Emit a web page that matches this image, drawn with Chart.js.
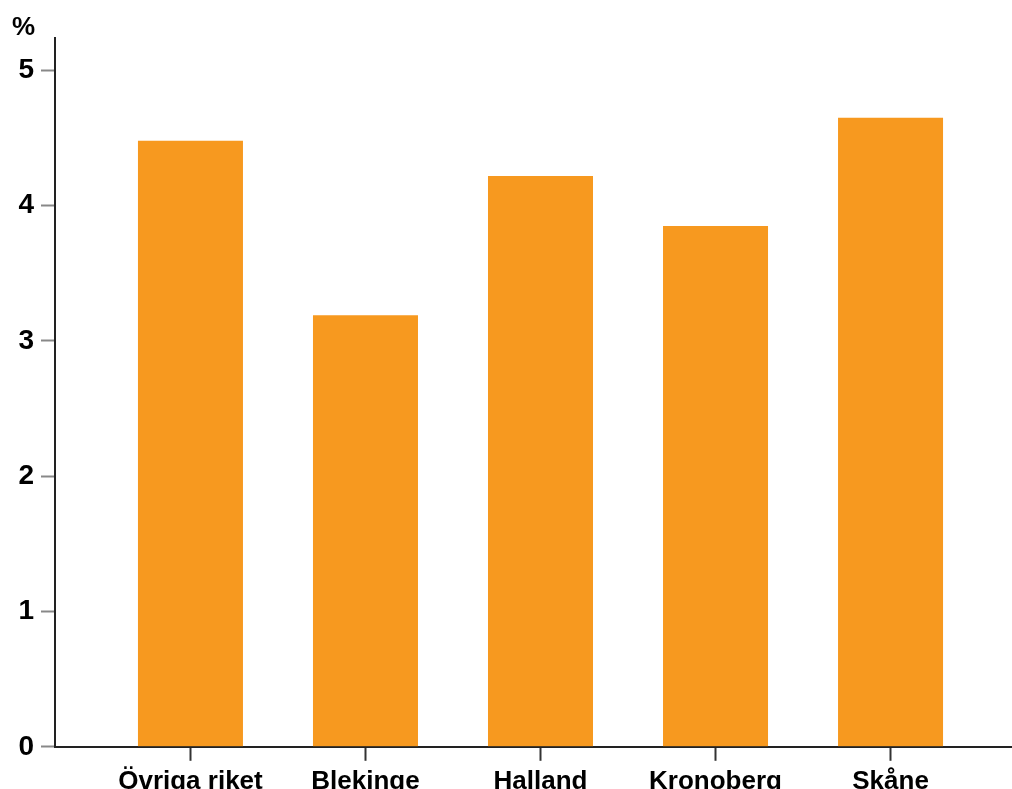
<!DOCTYPE html>
<html>
<head>
<meta charset="utf-8">
<script src="https://cdn.jsdelivr.net/npm/chart.js@4/dist/chart.umd.min.js"></script>
<style>
  html, body { margin: 0; padding: 0; background: #fff; overflow: hidden; }
  #wrap { position: relative; width: 1012px; height: 802px; }
</style>
</head>
<body>
<div id="wrap"><canvas id="chart"></canvas></div>
<script>
const regions = ['Övriga riket', 'Blekinge', 'Halland', 'Kronoberg', 'Skåne'];
const shares = [4.48, 3.19, 4.22, 3.85, 4.65];
const yTicks = [0, 1, 2, 3, 4, 5];

Chart.defaults.font.family = "'Liberation Sans', Arial, sans-serif";
Chart.defaults.font.size = 26;
Chart.defaults.font.weight = 'bold';
Chart.defaults.color = '#000';

const ctx = document.getElementById('chart').getContext('2d');

const chart = new Chart(ctx, {
    type: 'bar',
    data: {
        datasets: [{
            data: regions.map((r, i) => ({ x: i, y: shares[i] })),
            backgroundColor: '#F7991F',
            borderWidth: 0,
            categoryPercentage: 1,
            barPercentage: 0.6
        }]
    },
    options: {
        responsive: true,
        maintainAspectRatio: false,
        animation: false,
        layout: {
            padding: { left: 12, right: 0, top: 0, bottom: 0 }
        },
        plugins: {
            legend: { display: false },
            tooltip: { enabled: false },
            title: {
                display: true,
                text: '%',
                align: 'start',
                color: '#000',
                font: { size: 26, weight: 'bold', lineHeight: 1 },
                padding: { top: 15, bottom: -3 }
            }
        },
        scales: {
            x: {
                type: 'linear',
                offset: false,
                min: -0.774,
                max: 4.694,
                afterBuildTicks: (scale) => {
                    scale.ticks = regions.map((r, i) => ({ value: i }));
                },
                ticks: {
                    padding: 5,
                    autoSkip: false,
                    maxRotation: 0,
                    callback: (v) => regions[v]
                },
                grid: {
                    offset: false,
                    drawOnChartArea: false,
                    tickLength: 14,
                    tickColor: '#333',
                    tickWidth: 2
                },
                border: { color: '#222', width: 2 }
            },
            y: {
                min: 0,
                max: 5.24,
                afterBuildTicks: (scale) => {
                    scale.ticks = yTicks.map(v => ({ value: v }));
                },
                afterFit: (scale) => { scale.width = 43; },
                ticks: {
                    padding: 7,
                    font: { size: 28, weight: 'bold' }
                },
                grid: {
                    drawOnChartArea: false,
                    tickLength: 14,
                    tickColor: '#888',
                    tickWidth: 2
                },
                border: { color: '#222', width: 2 }
            }
        }
    }
});
</script>
</body>
</html>
